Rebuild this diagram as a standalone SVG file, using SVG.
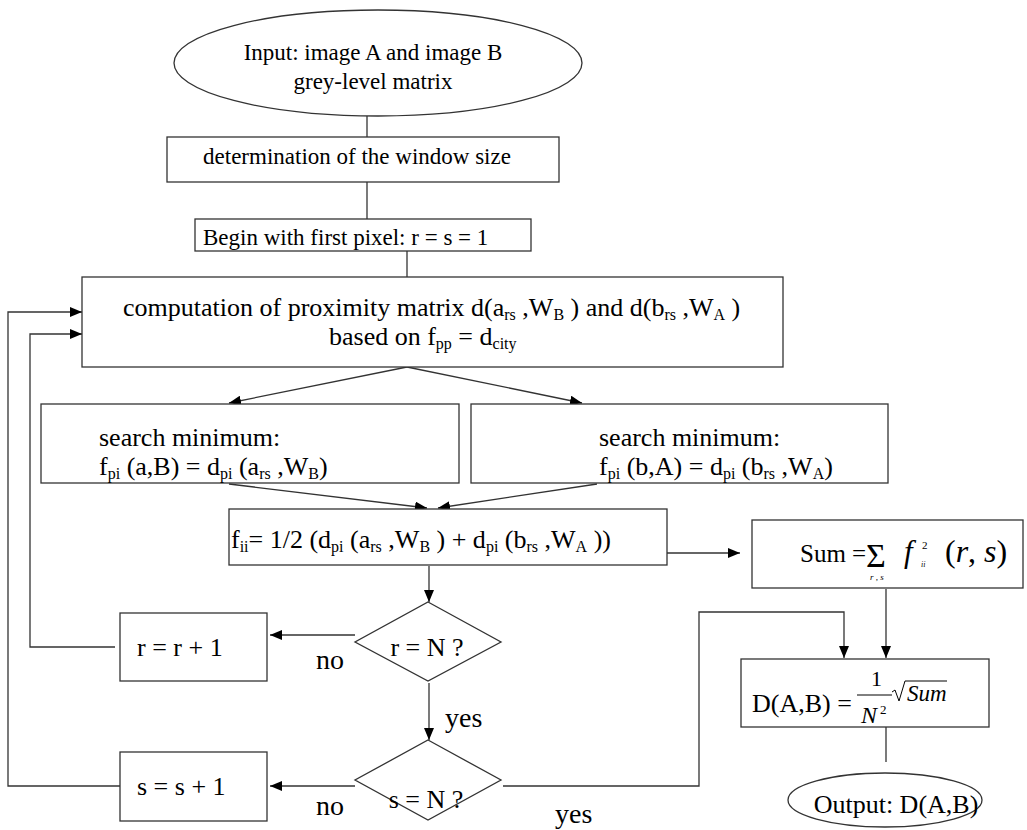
<svg xmlns="http://www.w3.org/2000/svg" width="1027" height="830" viewBox="0 0 1027 830">
<style>
text{font-family:"Liberation Serif","Times New Roman",serif;font-size:26px;fill:#000}
.sm{font-size:23px}
.sub{font-size:16px}
.lbl{font-size:28px}
.shape{fill:#fff;stroke:#333;stroke-width:1.3}
.conn{fill:none;stroke:#333;stroke-width:1.3}
.it{font-style:italic}
</style>
<defs>
<marker id="ah" viewBox="0 0 12 10" refX="12" refY="5" markerWidth="12" markerHeight="10" markerUnits="userSpaceOnUse" orient="auto"><path d="M0,0 L12,5 L0,10 z" fill="#000"/></marker>
</defs>
<rect width="1027" height="830" fill="#fff"/>
<g id="connectors">
<line class="conn" x1="367" y1="116" x2="367" y2="137"/>
<line class="conn" x1="367" y1="182" x2="367" y2="219"/>
<line class="conn" x1="407" y1="251" x2="407" y2="277"/>
<line class="conn" x1="407" y1="367" x2="229" y2="403" marker-end="url(#ah)"/>
<line class="conn" x1="407" y1="367" x2="582" y2="403" marker-end="url(#ah)"/>
<line class="conn" x1="229" y1="484" x2="427" y2="508" marker-end="url(#ah)"/>
<line class="conn" x1="597" y1="484" x2="438" y2="508" marker-end="url(#ah)"/>
<line class="conn" x1="429" y1="566" x2="429" y2="602" marker-end="url(#ah)"/>
<line class="conn" x1="355" y1="635" x2="270" y2="635" marker-end="url(#ah)"/>
<line class="conn" x1="429" y1="683" x2="429" y2="740" marker-end="url(#ah)"/>
<line class="conn" x1="355" y1="786" x2="270" y2="786" marker-end="url(#ah)"/>
<polyline class="conn" points="115,647 30,647 30,334 82,334" marker-end="url(#ah)"/>
<polyline class="conn" points="120,786 8,786 8,312 82,312" marker-end="url(#ah)"/>
<line class="conn" x1="667" y1="553" x2="740" y2="553" marker-end="url(#ah)"/>
<line class="conn" x1="886" y1="589" x2="886" y2="658" marker-end="url(#ah)"/>
<polyline class="conn" points="503,786 699,786 699,612 844,612 844,658" marker-end="url(#ah)"/>
<line class="conn" x1="886" y1="727" x2="886" y2="762"/>
<text class="lbl" x="316" y="669">no</text>
<text class="lbl" x="316" y="815">no</text>
<text class="lbl" x="445" y="727">yes</text>
<text class="lbl" x="555" y="823">yes</text>
</g>
<g id="input">
<ellipse class="shape" cx="378" cy="63" rx="204" ry="53"/>
<text class="sm" x="373" y="60" text-anchor="middle">Input: image A and image B</text>
<text class="sm" x="373" y="89" text-anchor="middle">grey-level matrix</text>
</g>
<g id="window">
<rect class="shape" x="167" y="137" width="392" height="45"/>
<text class="sm" x="357" y="164" text-anchor="middle">determination of the window size</text>
</g>
<g id="begin">
<rect class="shape" x="195" y="219" width="336" height="32"/>
<text class="sm" x="203" y="245">Begin with first pixel: r = s = 1</text>
</g>
<g id="compute">
<rect class="shape" x="82" y="277" width="701" height="90"/>
<text x="123" y="316">computation of proximity matrix d(a<tspan class="sub" dy="4">rs</tspan><tspan dy="-4"> ,W</tspan><tspan class="sub" dy="4">B</tspan><tspan dy="-4"> ) and d(b</tspan><tspan class="sub" dy="4">rs</tspan><tspan dy="-4"> ,W</tspan><tspan class="sub" dy="4">A</tspan><tspan dy="-4"> )</tspan></text>
<text x="329" y="345">based on f<tspan class="sub" dy="4">pp</tspan><tspan dy="-4"> = d</tspan><tspan class="sub" dy="4">city</tspan></text>
</g>
<g id="searchA">
<rect class="shape" x="41" y="404" width="418" height="79"/>
<text x="99" y="446">search minimum:</text>
<text x="99" y="475">f<tspan class="sub" dy="4">pi</tspan><tspan dy="-4"> (a,B) = d</tspan><tspan class="sub" dy="4">pi</tspan><tspan dy="-4"> (a</tspan><tspan class="sub" dy="4">rs</tspan><tspan dy="-4"> ,W</tspan><tspan class="sub" dy="4">B</tspan><tspan dy="-4">)</tspan></text>
</g>
<g id="searchB">
<rect class="shape" x="471" y="404" width="417" height="79"/>
<text x="599" y="446">search minimum:</text>
<text x="599" y="475">f<tspan class="sub" dy="4">pi</tspan><tspan dy="-4"> (b,A) = d</tspan><tspan class="sub" dy="4">pi</tspan><tspan dy="-4"> (b</tspan><tspan class="sub" dy="4">rs</tspan><tspan dy="-4"> ,W</tspan><tspan class="sub" dy="4">A</tspan><tspan dy="-4">)</tspan></text>
</g>
<g id="fii">
<rect class="shape" x="229" y="509" width="438" height="56"/>
<text x="231" y="548">f<tspan class="sub" dy="4">ii</tspan><tspan dy="-4">= 1/2 (d</tspan><tspan class="sub" dy="4">pi</tspan><tspan dy="-4"> (a</tspan><tspan class="sub" dy="4">rs</tspan><tspan dy="-4"> ,W</tspan><tspan class="sub" dy="4">B</tspan><tspan dy="-4"> ) + d</tspan><tspan class="sub" dy="4">pi</tspan><tspan dy="-4"> (b</tspan><tspan class="sub" dy="4">rs</tspan><tspan dy="-4"> ,W</tspan><tspan class="sub" dy="4">A</tspan><tspan dy="-4"> ))</tspan></text>
</g>
<g id="rcheck">
<polygon class="shape" points="428,602 501,642 428,681 355,642"/>
<text x="427" y="656" text-anchor="middle">r = N ?</text>
</g>
<g id="rinc">
<rect class="shape" x="120" y="613" width="147" height="68"/>
<text x="137" y="656">r = r + 1</text>
</g>
<g id="scheck">
<polygon class="shape" points="428,740 501,780 428,820 355,780"/>
<text x="426" y="808" text-anchor="middle">s = N ?</text>
</g>
<g id="sinc">
<rect class="shape" x="120" y="752" width="147" height="69"/>
<text x="137" y="795">s = s + 1</text>
</g>
<g id="sum">
<rect class="shape" x="752" y="520" width="271" height="68"/>
<text x="800" y="562" style="font-size:25px">Sum =</text>
<text x="866" y="567" style="font-size:34px">Σ</text>
<text x="870" y="580" class="it" style="font-size:9px">r , s</text>
<text x="904" y="562" class="it" style="font-size:31px">f</text>
<text x="922" y="549" style="font-size:11px">2</text>
<text x="921" y="567" class="it" style="font-size:8px">ii</text>
<text x="945" y="562" style="font-size:32px">(<tspan class="it">r</tspan>, <tspan class="it">s</tspan>)</text>
</g>
<g id="dist">
<rect class="shape" x="741" y="659" width="248" height="68"/>
<text x="752" y="712">D(A,B) =</text>
<text x="871" y="686" style="font-size:22px">1</text>
<line x1="857" y1="695" x2="892" y2="695" stroke="#000" stroke-width="1"/>
<text x="861" y="723" class="it" style="font-size:24px">N</text>
<text x="880" y="714" style="font-size:13px">2</text>
<path d="M892,692 L895,690 L899,701 L905,681 L947,681" fill="none" stroke="#000" stroke-width="1"/>
<text x="907" y="701" class="it" style="font-size:23px">Sum</text>
</g>
<g id="output">
<ellipse class="shape" cx="885" cy="800" rx="97" ry="27"/>
<text x="896" y="813" text-anchor="middle">Output: D(A,B)</text>
</g>
</svg>
